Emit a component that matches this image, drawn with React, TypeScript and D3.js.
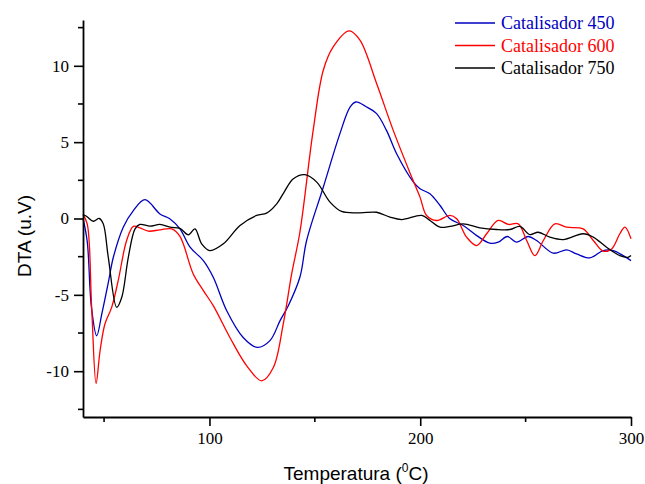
import React, { useRef, useEffect } from 'react';
import * as d3 from 'd3';

// temperature (°C) / DTA (u.V) pairs
const temp450 = [40, 42, 44, 46.5, 49, 52, 54.4, 59.1, 63.9, 69.4, 76.5, 81, 86, 90.8, 97.1, 101.8, 108.2, 116, 122.7, 128.7, 133.5, 137.4, 142.9, 146.1, 154, 161.9, 166.7, 169.5, 174, 179.3, 184, 188.8, 196.7, 199.9, 204.6, 209.4, 214.1, 220.4, 226.8, 233.1, 237, 241.3, 245.7, 251.2, 255.2, 263.1, 269.5, 274.2, 280.5, 286.8, 291.6, 296.3, 300];
const dta450 = [0, -1.5, -5.8, -7.68, -6.2, -4.2, -2.54, -0.57, 0.52, 1.23, 0.3, 0, -0.68, -1.88, -2.76, -3.85, -6.04, -7.79, -8.44, -8.0, -6.69, -5.71, -3.85, -1.44, 2.05, 5.56, 7.3, 7.63, 7.35, 6.87, 5.77, 4.24, 2.4, 1.95, 1.62, 0.85, -0.02, -0.46, -1.12, -1.62, -1.55, -1.18, -1.55, -1.18, -1.44, -2.27, -2.05, -2.32, -2.58, -2.1, -2.1, -2.43, -2.76];

const temp600 = [40, 42, 44.1, 46.2, 48.1, 50.4, 53.6, 56.7, 60.7, 63.9, 67, 71, 76.5, 82.1, 86, 92.3, 97.1, 101.8, 109.7, 117.7, 124.8, 130.3, 135, 139, 142.9, 149.2, 154, 158.7, 166.3, 171.4, 179.3, 187.2, 195.1, 199.9, 203, 207.8, 214.1, 217.3, 222, 226.8, 231.5, 237, 241.8, 246.5, 250.5, 254.4, 258.4, 263.9, 269.5, 277.3, 282.1, 286.8, 290.8, 294.7, 297.1, 300];
const dta600 = [0.26, -0.35, -5.82, -10.8, -8.66, -6.91, -5.82, -4.07, -1.44, -0.52, -0.61, -0.83, -0.74, -0.68, -1.17, -3.63, -4.72, -5.71, -7.79, -9.65, -10.63, -9.76, -6.91, -3.63, -0.9, 5.77, 9.71, 11.24, 12.29, 11.68, 8.84, 5.77, 3.0, 1.4, 0.2, -0.13, 0.2, -0.02, -1.22, -1.77, -1.0, -0.13, -0.39, -0.35, -1.44, -2.43, -1.44, -0.35, -0.57, -0.68, -1.44, -2.14, -1.99, -1.0, -0.57, -1.33];

const temp750 = [40, 41.8, 44.9, 47.7, 49.6, 52, 56, 58.4, 61.5, 64.7, 67, 71.8, 76.5, 81.3, 86, 90, 93.1, 96.3, 100.2, 106.6, 114.5, 122.4, 127.1, 131.9, 135.5, 139.8, 145.3, 150.9, 157.2, 162.7, 171.4, 179.3, 185.6, 191.2, 200.7, 204.6, 209.4, 214.1, 220.4, 228.3, 236.2, 242.6, 247.3, 252, 256, 261.5, 267.8, 277.3, 282.1, 288.4, 294.7, 298.6, 300];
const dta750 = [0.26, 0.13, -0.18, 0, -0.35, -2.54, -5.82, -5.16, -2.54, -0.68, -0.39, -0.5, -0.39, -0.57, -0.65, -1.07, -0.68, -1.66, -2.1, -1.66, -0.46, 0.2, 0.35, 0.96, 1.75, 2.6, 2.87, 2.38, 1.07, 0.46, 0.37, 0.41, 0.09, -0.07, 0.2, -0.13, -0.57, -0.52, -0.35, -0.61, -0.72, -0.72, -0.52, -1.05, -0.9, -1.22, -1.38, -1.0, -1.22, -1.88, -2.43, -2.54, -2.43];

const seriesNames = ['Catalisador 450', 'Catalisador 600', 'Catalisador 750'];
const seriesColors = ['#0000c0', '#ff0000', '#000000'];

const xMajorTicks = [100, 200, 300];
const xMinorTicks = [50, 150, 250];
const yMajorTicks = [-10, -5, 0, 5, 10];
const yMinorTicks = [-12.5, -7.5, -2.5, 2.5, 7.5, 12.5];

const App = () => {
  const svgRef = useRef<SVGSVGElement | null>(null);

  useEffect(() => {
    if (!svgRef.current) return;

    const width = 645;
    const height = 484;
    const margin = { top: 20, right: 14, bottom: 67, left: 83 };

    d3.select(svgRef.current).selectAll('*').remove();
    const svg = d3.select(svgRef.current)
      .attr('width', width)
      .attr('height', height);

    const x = d3.scaleLinear()
      .domain([40, 300])
      .range([margin.left, width - margin.right]);
    const y = d3.scaleLinear()
      .domain([-13, 13])
      .range([height - margin.bottom, margin.top]);

    const series = [
      { t: temp450, v: dta450 },
      { t: temp600, v: dta600 },
      { t: temp750, v: dta750 },
    ];

    const line = d3.line<[number, number]>()
      .x(d => x(d[0]))
      .y(d => y(d[1]))
      .curve(d3.curveCatmullRom.alpha(0.5));

    // blue, red, then black on top
    series.forEach((s, i) => {
      const pts = s.t.map((t, j) => [t, s.v[j]] as [number, number]);
      svg.append('path')
        .attr('d', line(pts))
        .attr('fill', 'none')
        .attr('stroke', seriesColors[i])
        .attr('stroke-width', 1.3);
    });

    // axes
    const serif = '"Liberation Serif", "Times New Roman", serif';
    const xAxis = svg.append('g')
      .attr('transform', `translate(0,${height - margin.bottom})`);
    xAxis.call(d3.axisBottom(x).tickValues(xMajorTicks).tickSize(9).tickPadding(6).tickSizeOuter(0));
    xAxis.append('g').selectAll('line')
      .data(xMinorTicks)
      .enter()
      .append('line')
      .attr('x1', d => x(d))
      .attr('x2', d => x(d))
      .attr('y1', 0)
      .attr('y2', 5)
      .attr('stroke', '#000')
      .attr('stroke-width', 1.6);

    const yAxis = svg.append('g')
      .attr('transform', `translate(${margin.left},0)`);
    yAxis.call(d3.axisLeft(y).tickValues(yMajorTicks).tickSize(9).tickPadding(5).tickSizeOuter(0)
      .tickFormat(d => String(d)));
    yAxis.append('g').selectAll('line')
      .data(yMinorTicks)
      .enter()
      .append('line')
      .attr('x1', 0)
      .attr('x2', -5)
      .attr('y1', d => y(d))
      .attr('y2', d => y(d))
      .attr('stroke', '#000')
      .attr('stroke-width', 1.6);

    svg.selectAll('.domain').attr('stroke', '#000').attr('stroke-width', 1.8);
    svg.selectAll('.tick line').attr('stroke', '#000').attr('stroke-width', 1.6);
    svg.selectAll('.tick text')
      .attr('font-family', serif)
      .attr('font-size', 17)
      .attr('fill', '#000');

    // axis titles
    const sans = '"Liberation Sans", Arial, sans-serif';
    const xt = svg.append('text')
      .attr('x', 356)
      .attr('y', 480)
      .attr('text-anchor', 'middle')
      .attr('font-family', sans)
      .attr('font-size', 19)
      .attr('fill', '#000');
    xt.append('tspan').text('Temperatura (');
    xt.append('tspan').attr('font-size', 12).attr('dy', -8).text('0');
    xt.append('tspan').attr('dy', 8).text('C)');

    svg.append('text')
      .attr('transform', 'translate(31,236) rotate(-90)')
      .attr('text-anchor', 'middle')
      .attr('font-family', sans)
      .attr('font-size', 19)
      .attr('fill', '#000')
      .text('DTA (u.V)');

    // legend
    const legend = svg.append('g').attr('transform', 'translate(455,23)');
    seriesNames.forEach((name, i) => {
      const row = legend.append('g').attr('transform', `translate(0,${i * 22.5})`);
      row.append('line')
        .attr('x1', 0)
        .attr('x2', 40)
        .attr('stroke', seriesColors[i])
        .attr('stroke-width', 1.3);
      row.append('text')
        .attr('x', 46)
        .attr('y', 6)
        .attr('font-family', serif)
        .attr('font-size', 18)
        .attr('fill', seriesColors[i])
        .text(name);
    });
  }, []);

  return (
    <svg ref={svgRef} style={{ position: 'absolute', left: 0, top: 0 }}></svg>
  );
};

export default App;
